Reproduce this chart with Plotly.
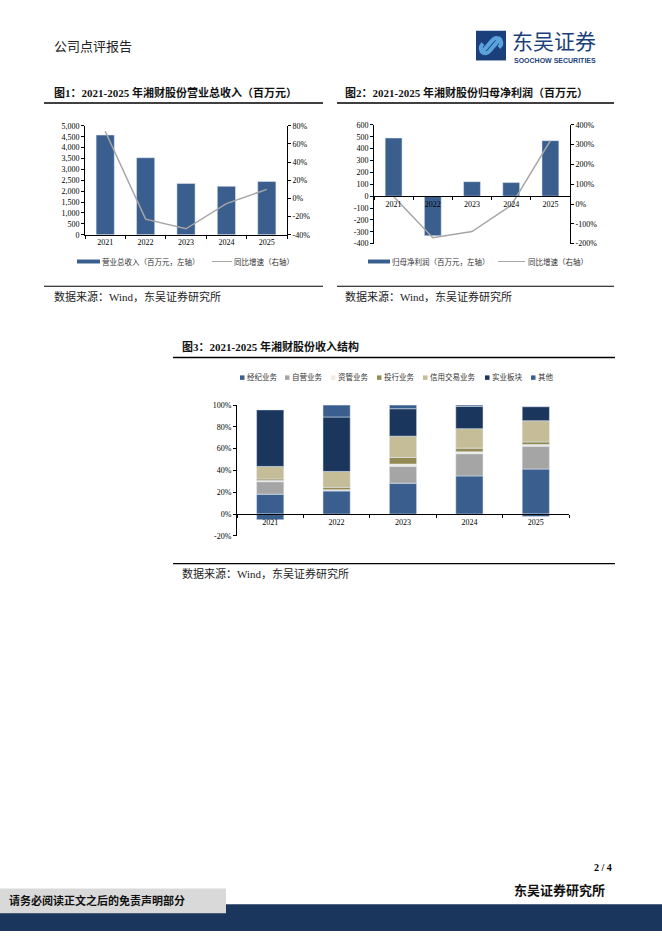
import plotly.graph_objects as go

W, H = 662, 936
SERIF = "Liberation Serif, Noto Sans CJK SC"
SANS = "Noto Sans CJK SC, Liberation Sans"
BLUE = "#3A5F8F"
NAVY = "#1B365D"
GRAYLINE = "#A6A6A6"

# ---------------- data ----------------
YEARS = ["2021", "2022", "2023", "2024", "2025"]

REVENUE = [4577, 3535, 2356, 2221, 2447]          # 百万元
REVENUE_YOY = [0.74, -0.228, -0.334, -0.057, 0.10]

NET_PROFIT = [489, -333, 122, 114, 467]           # 百万元
NET_PROFIT_YOY = [0.38, -1.70, -1.39, -0.066, 3.20]

SEG_NAMES = ["经纪业务", "自营业务", "资管业务", "投行业务", "信用交易业务", "实业板块", "其他"]
SEG_COLORS = ["#3A5F8F", "#A5A5A5", "#EEECE1", "#948A54", "#C4BD97", "#1B365D", "#3A5F8F"]
SEG_BROKER = [0.182, 0.212, 0.283, 0.350, 0.413]
SEG_PROP = [0.115, 0.006, 0.155, 0.204, 0.210]
SEG_AM = [0.010, 0.006, 0.021, 0.018, 0.015]
SEG_IB = [0.015, 0.021, 0.061, 0.033, 0.024]
SEG_CREDIT = [0.115, 0.146, 0.195, 0.179, 0.195]
SEG_INDUSTRY = [0.519, 0.500, 0.252, 0.204, 0.128]
SEG_OTHER = [-0.052, 0.109, 0.033, 0.012, -0.023]
SEGMENTS = [SEG_BROKER, SEG_PROP, SEG_AM, SEG_IB, SEG_CREDIT, SEG_INDUSTRY, SEG_OTHER]

Y1_TICKS = list(range(0, 5001, 500))
Y2_TICKS = [-0.4, -0.2, 0.0, 0.2, 0.4, 0.6, 0.8]
Y3_TICKS = list(range(-400, 601, 100))
Y4_TICKS = [-2, -1, 0, 1, 2, 3, 4]
Y5_TICKS = [-0.2, 0.0, 0.2, 0.4, 0.6, 0.8, 1.0]


def pct(v):
    return f"{round(v * 100):d}%"


def px_x(x):
    return x / W


def px_y(y):
    return 1 - y / H


fig = go.Figure()

# ---------------- chart 1 ----------------
fig.add_trace(go.Bar(x=YEARS, y=REVENUE, marker_color=BLUE, width=0.45,
                     xaxis="x", yaxis="y", showlegend=False))
fig.add_trace(go.Scatter(x=YEARS, y=REVENUE_YOY, mode="lines",
                         line=dict(color=GRAYLINE, width=1.5),
                         xaxis="x", yaxis="y2", showlegend=False))

# ---------------- chart 2 ----------------
fig.add_trace(go.Bar(x=YEARS, y=NET_PROFIT, marker_color=BLUE, width=0.43,
                     xaxis="x2", yaxis="y3", showlegend=False))
fig.add_trace(go.Scatter(x=YEARS, y=NET_PROFIT_YOY, mode="lines",
                         line=dict(color=GRAYLINE, width=1.5),
                         xaxis="x2", yaxis="y4", showlegend=False))

# ---------------- chart 3 ----------------
for name, color, vals in zip(SEG_NAMES, SEG_COLORS, SEGMENTS):
    fig.add_trace(go.Bar(x=YEARS, y=vals, name=name, marker_color=color, width=0.41,
                         xaxis="x3", yaxis="y5", showlegend=False))

tickfont = dict(family=SERIF, size=8, color="#000")
common_y = dict(showgrid=False, zeroline=False, showline=True, linecolor="#000",
                linewidth=1, ticks="outside", ticklen=3, tickcolor="#000",
                tickfont=tickfont)
common_x = dict(type="category", showgrid=False, zeroline=False, showline=True,
                linecolor="#000", linewidth=1, ticks="outside", ticklen=3,
                tickcolor="#000", tickson="boundaries", tickfont=tickfont)

fig.update_layout(
    width=W, height=H, autosize=False,
    margin=dict(l=0, r=0, t=0, b=0),
    paper_bgcolor="white", plot_bgcolor="rgba(0,0,0,0)",
    barmode="relative",
    xaxis=dict(domain=[px_x(85), px_x(287)], anchor="y", **common_x),
    yaxis=dict(domain=[px_y(233), px_y(123)], anchor="x", range=[0, 5000],
               tickvals=Y1_TICKS, ticktext=[f"{v:,}" for v in Y1_TICKS], **common_y),
    yaxis2=dict(overlaying="y", side="right", anchor="x", range=[-0.4, 0.8],
                tickvals=Y2_TICKS, ticktext=[pct(v) for v in Y2_TICKS], **common_y),
    xaxis2=dict(domain=[px_x(374), px_x(570)], anchor="free",
                position=px_y(194), **common_x),
    yaxis3=dict(domain=[px_y(242), px_y(122)], anchor="x2", range=[-400, 600],
                tickvals=Y3_TICKS, ticktext=[str(v) for v in Y3_TICKS], **common_y),
    yaxis4=dict(overlaying="y3", side="right", anchor="x2", range=[-2, 4],
                tickvals=Y4_TICKS, ticktext=[pct(v) for v in Y4_TICKS], **common_y),
    xaxis3=dict(domain=[px_x(237), px_x(569)], anchor="free",
                position=px_y(515), **common_x),
    yaxis5=dict(domain=[px_y(537), px_y(405)], anchor="x3", range=[-0.2, 1.0],
                tickvals=Y5_TICKS, ticktext=[pct(v) for v in Y5_TICKS], **common_y),
)

shapes = []
annos = []


def txt(s, x, y, size, family=SERIF, color="#000", xanchor="left", bold=False):
    if bold:
        s = f"<b>{s}</b>"
    annos.append(dict(text=s, x=px_x(x), y=px_y(y), xref="paper", yref="paper",
                      showarrow=False, xanchor=xanchor, yanchor="middle",
                      font=dict(size=size, family=family, color=color), borderpad=0))


def hline(x0, x1, y, width=1.5, color="#000"):
    shapes.append(dict(type="line", xref="paper", yref="paper",
                       x0=px_x(x0), x1=px_x(x1), y0=px_y(y), y1=px_y(y),
                       line=dict(color=color, width=width)))


def rect(x0, y0, x1, y1, color):
    shapes.append(dict(type="rect", xref="paper", yref="paper",
                       x0=px_x(x0), x1=px_x(x1), y0=px_y(y1), y1=px_y(y0),
                       fillcolor=color, line=dict(width=0), layer="above"))


# ---------------- header ----------------
txt("公司点评报告", 53, 43, 13, family=SERIF, color="#222")
rect(476, 27, 506, 57, "#1B3F7A")
shapes.append(dict(type="path", xref="paper", yref="paper",
                   path=" ".join([
                       f"M {px_x(481)},{px_y(50)} L {px_x(492)},{px_y(37)}",
                       f"Q {px_x(496)},{px_y(32)} {px_x(500)},{px_y(36)}",
                       f"Q {px_x(503)},{px_y(40)} {px_x(499)},{px_y(44)}",
                   ]),
                   line=dict(color="#5BA3DC", width=4)))
shapes.append(dict(type="path", xref="paper", yref="paper",
                   path=" ".join([
                       f"M {px_x(501)},{px_y(34)} L {px_x(490)},{px_y(47)}",
                       f"Q {px_x(486)},{px_y(52)} {px_x(482)},{px_y(48)}",
                       f"Q {px_x(479)},{px_y(44)} {px_x(483)},{px_y(40)}",
                   ]),
                   line=dict(color="#5BA3DC", width=4)))
txt("东吴证券", 511, 36, 21, family=SANS, color="#1B3F7A")
txt("<b>SOOCHOW SECURITIES</b>", 513, 57, 7, family="Liberation Sans", color="#1B3F7A")

# ---------------- chart 1 frame ----------------
txt("图1：2021-2025 年湘财股份营业总收入（百万元）", 53, 89, 11, bold=True, color="#111")
hline(44, 323, 100)
rect(77, 258, 100, 262, BLUE)
txt("营业总收入（百万元，左轴）", 101, 260, 7.5, color="#333")
hline(212, 232, 260, width=1, color=GRAYLINE)
txt("同比增速（右轴）", 233, 260, 7.5, color="#333")
hline(44, 323, 285, width=1.2)
txt("数据来源：Wind，东吴证券研究所", 53, 295, 11, color="#222")

# ---------------- chart 2 frame ----------------
txt("图2：2021-2025 年湘财股份归母净利润（百万元）", 344, 89, 11, bold=True, color="#111")
hline(337, 614, 100)
rect(368, 258, 390, 262, BLUE)
txt("归母净利润（百万元，左轴）", 391, 260, 7.5, color="#333")
hline(498, 525, 260, width=1, color=GRAYLINE)
txt("同比增速（右轴）", 527, 260, 7.5, color="#333")
hline(337, 614, 285, width=1.2)
txt("数据来源：Wind，东吴证券研究所", 344, 295, 11, color="#222")

# ---------------- chart 3 frame ----------------
txt("图3：2021-2025 年湘财股份收入结构", 181, 346, 11, bold=True, color="#111")
hline(173, 615, 357)
LEG3_X = [240, 285, 331, 377, 423, 485, 531]
for name, color, lx in zip(SEG_NAMES, SEG_COLORS, LEG3_X):
    rect(lx, 375, lx + 4.5, 379.5, color)
    txt(name, lx + 6, 377, 7.5, color="#333")
hline(173, 615, 565, width=1.2)
txt("数据来源：Wind，东吴证券研究所", 181, 575, 11, color="#222")

# ---------------- footer ----------------
txt("2 / 4", 613, 872, 10, bold=True, xanchor="right")
txt("东吴证券研究所", 606, 895, 13, bold=True, xanchor="right", color="#111")
rect(0, 909, 662, 936, "#1B365D")
rect(0, 893, 226, 918, "#D9D9D9")
txt("请务必阅读正文之后的免责声明部分", 8, 905, 11, bold=True, color="#111")

fig.update_layout(shapes=shapes, annotations=annos)

fig.write_html("out.html", config={"displayModeBar": False},
               post_script="document.body.style.margin='0';")
